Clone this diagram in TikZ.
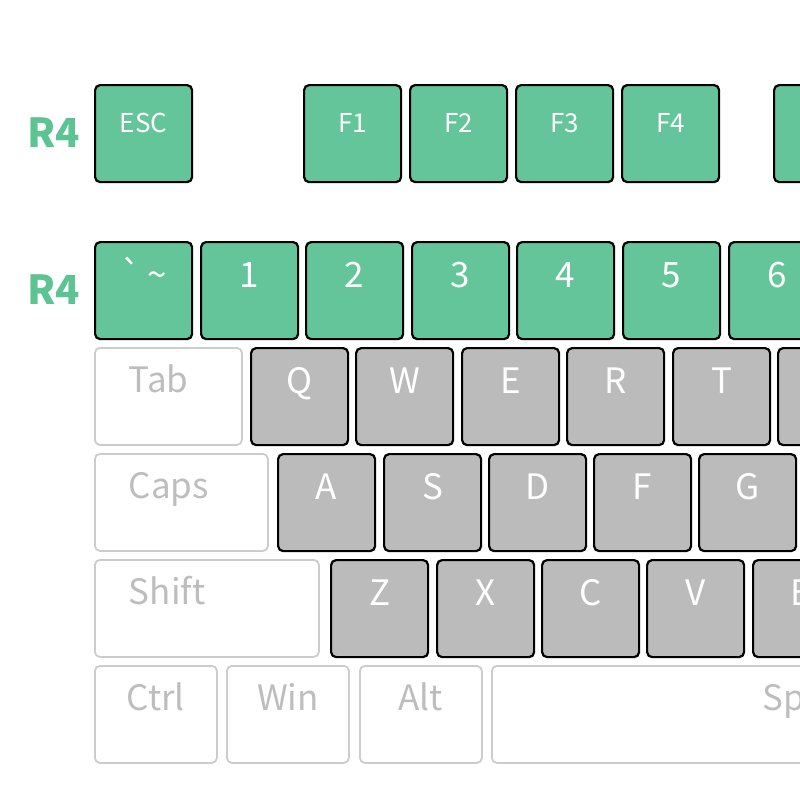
\documentclass[tikz,border=0pt]{standalone}
\usepackage{fontspec}
\setmainfont{Noto Sans CJK SC}
\definecolor{keygreen}{HTML}{64C49A}
\definecolor{rowgreen}{HTML}{5CC393}
\definecolor{keygray}{HTML}{BBBBBB}
\definecolor{ghostline}{HTML}{CCCCCC}
\definecolor{ghosttext}{HTML}{BDBDBD}
\tikzset{
  key/.style={rectangle, rounded corners=5pt, anchor=north west, inner sep=0pt,
    minimum width=97pt, minimum height=97pt, text height=25pt, text depth=32pt,
    font=\fontsize{35}{35}\selectfont},
  greenkey/.style={key, draw=black, line width=2.2pt, fill=keygreen, text=white},
  fkey/.style={greenkey, text height=18pt, text depth=21pt, font=\fontsize{26}{26}\selectfont},
  graykey/.style={key, draw=black, line width=2.2pt, fill=keygray, text=white},
  ghostkey/.style={key, draw=ghostline, line width=1.8pt, text=ghosttext, minimum width=#1},
  rowlabel/.style={anchor=base west, text=rowgreen, font=\fontsize{40}{40}\selectfont\bfseries}
}
\begin{document}
\begin{tikzpicture}[x=1pt, y=-1pt]
\useasboundingbox (0,0) rectangle (800,800);
\node[rowlabel] (rowF) at (24,147) {R4};
\node[rowlabel] (rowN) at (24,304) {R4};
\node[fkey] (esc) at (94,84) {ESC};
\foreach \n/\x in {1/303,2/409,3/515,4/621}
  \node[fkey] (f\n) at (\x,84) {F\n};
\node[fkey] (f5) at (773,84) {};
\node[greenkey] (tilde) at (94,241) {\textasciigrave\,\textasciitilde};
\foreach \n/\x in {1/200,2/305,3/411,4/516,5/622,6/728}
  \node[greenkey] (n\n) at (\x,241) {\n};
\node[ghostkey=147pt, text width=79pt, align=left, inner xsep=34pt] (tab) at (94,347) {Tab};
\foreach \k/\x in {Q/250,W/355,E/461,R/566,T/672}
  \node[graykey] (k\k) at (\x,347) {\k};
\node[graykey] (kY) at (777,347) {};
\node[ghostkey=173pt, text width=105pt, align=left, inner xsep=34pt] (caps) at (94,453) {Caps};
\foreach \k/\x in {A/277,S/383,D/488,F/593,G/698}
  \node[graykey] (k\k) at (\x,453) {\k};
\node[ghostkey=224pt, text width=156pt, align=left, inner xsep=34pt] (shift) at (94,559) {Shift};
\foreach \k/\x in {Z/330,X/436,C/541,V/646,B/752}
  \node[graykey] (k\k) at (\x,559) {\k};
\node[ghostkey=122pt] (ctrl) at (94,665) {Ctrl};
\node[ghostkey=122pt] (win) at (226,665) {Win};
\node[ghostkey=122pt] (alt) at (359,665) {Alt};
\node[ghostkey=640pt] (space) at (491,665) {Space};
\end{tikzpicture}
\end{document}
